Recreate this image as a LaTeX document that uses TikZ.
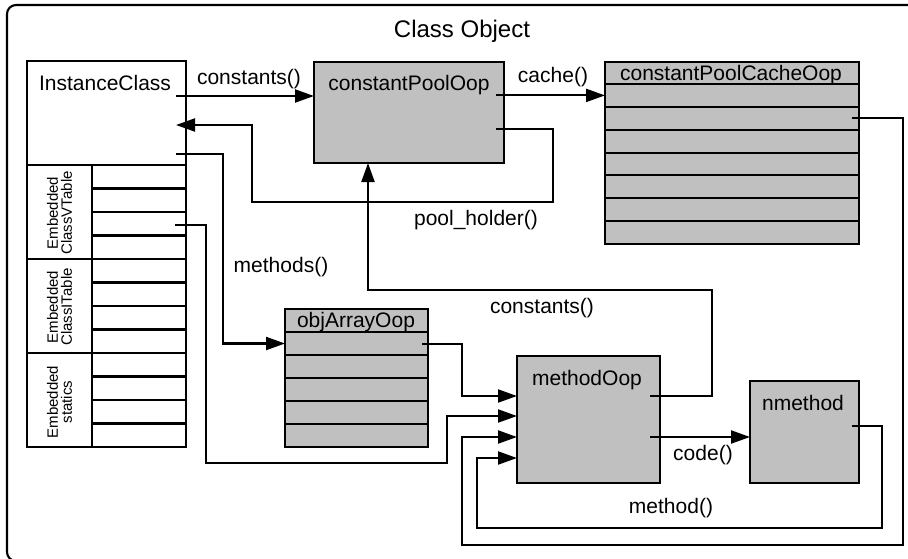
\documentclass[tikz,border=0pt]{standalone}
\usepackage{fontspec}
\setmainfont{Liberation Sans}
\usetikzlibrary{arrows.meta,calc}
\definecolor{oopgrey}{RGB}{192,192,192}

\begin{document}
\begin{tikzpicture}[x=1pt,y=-1pt,
  line width=2.1pt,
  box/.style={draw, line width=2.1pt, inner sep=0pt, outer sep=0pt, anchor=north west},
  gbox/.style={box, fill=oopgrey},
  lbl/.style={font=\fontsize{21}{25}\selectfont, inner sep=0pt, anchor=base},
  emb/.style={font=\fontsize{15}{14}\selectfont, inner sep=0pt, align=center, rotate=90},
  arr/.style={-{Triangle[length=19pt,width=13pt]}, line width=2.1pt, line join=miter}
]
\useasboundingbox (0,0) rectangle (908,558);
\clip (0,0) rectangle (908,558);

% outer frame of the class object
\node[draw, rounded corners=9pt, line width=2.1pt, inner sep=0pt, outer sep=0pt,
      anchor=north west, minimum width=930pt, minimum height=556pt] (frame) at (7,5) {};
\node[lbl, font=\fontsize{24}{28}\selectfont] (title) at (462,37) {Class Object};

% instanceKlass with its embedded tables
\node[box, minimum width=159pt, minimum height=386pt] (ic) at (27,61) {};
\node[lbl] (icname) at (105,90) {InstanceClass};
\draw (27,165) -- (186,165);
\draw (92,165) -- (92,447);
\draw (27,259) -- (186,259);
\draw (27,353) -- (186,353);
\foreach \k in {1,2,3,5,6,7,9,10,11}
  \draw ({92},{165+23.5*\k}) -- ({186},{165+23.5*\k});
\node[emb] (vtab) at (59.5,213) {Embedded\\ClassVTable};
\node[emb] (itab) at (59.5,307) {Embedded\\ClassITable};
\node[emb] (stat) at (59.5,402) {Embedded\\statics};

% constant pool
\node[gbox, minimum width=190pt, minimum height=101pt] (cpo) at (314,62) {};
\node[lbl] (cponame) at (409,90) {constantPoolOop};

% constant pool cache
\node[gbox, minimum width=254pt, minimum height=182pt] (cpc) at (605,62) {};
\node[lbl] (cpcname) at (731,80) {constantPoolCacheOop};
\foreach \k in {0,...,6}
  \draw ({605},{84+22.857*\k}) -- ({859},{84+22.857*\k});

% method array
\node[gbox, minimum width=143pt, minimum height=138pt] (oa) at (285,309) {};
\node[lbl] (oaname) at (356,327) {objArrayOop};
\foreach \k in {0,...,4}
  \draw ({285},{332+23*\k}) -- ({428},{332+23*\k});

% method and compiled code
\node[gbox, minimum width=143pt, minimum height=127pt] (mo) at (517,356) {};
\node[lbl] (moname) at (587,385) {methodOop};
\node[gbox, minimum width=109pt, minimum height=102pt] (nm) at (750,381) {};
\node[lbl] (nmname) at (803,410) {nmethod};

% ports the references leave from
\coordinate (pIcConst) at (176,96);
\coordinate (pIcHolder) at (176,125);
\coordinate (pIcMethods) at (176,154);
\coordinate (pVt) at (175,225);
\coordinate (pCpoCache) at (496,95.4);
\coordinate (pCpoHolder) at (496,129);
\coordinate (pCpc) at (852,118.3);
\coordinate (pOa) at (422,344);
\coordinate (pMoConst) at (650,396);
\coordinate (pMoCode) at (650,437);
\coordinate (pNm) at (852,426);

% references
\draw[arr] (pIcConst) -- (cpo.west |- pIcConst);
\node[lbl] (lconst) at (249,84) {constants()};
\draw[arr] (pCpoCache) -- (cpc.west |- pCpoCache);
\node[lbl] (lcache) at (553,82) {cache()};
\draw[arr] (pCpoHolder) -- (553,129) -- (553,202) -- (252,202) -- (252,125) -- (pIcHolder);
\node[lbl] (lholder) at (476,225) {pool\_holder()};
\draw[arr] (pIcMethods) -- (223,154) -- (223,343.5) -- (oa.west |- 223,343.5);
\node[lbl] (lmethods) at (281,272) {methods()};
\draw[arr] (pVt) -- (206,225) -- (206,463) -- (447,463) -- (447,416) -- (mo.west |- 447,416);
\draw[arr] (pOa) -- (462,344) -- (462,396) -- (mo.west |- 462,396);
\draw[arr] (pCpc) -- (903,118.3) -- (903,545) -- (462,545) -- (462,437) -- (mo.west |- 462,437);
\draw[arr] (pNm) -- (882,426) -- (882,528) -- (477,528) -- (477,458) -- (mo.west |- 477,458);
\node[lbl] (lmethod) at (671,513) {method()};
\draw[arr] (pMoConst) -- (712,396) -- (712,290) -- (368,290) -- (cpo.south -| 368,290);
\node[lbl] (lconst2) at (542,313) {constants()};
\draw[arr] (pMoCode) -- (nm.west |- pMoCode);
\node[lbl] (lcode) at (703,460) {code()};
\end{tikzpicture}
\end{document}
